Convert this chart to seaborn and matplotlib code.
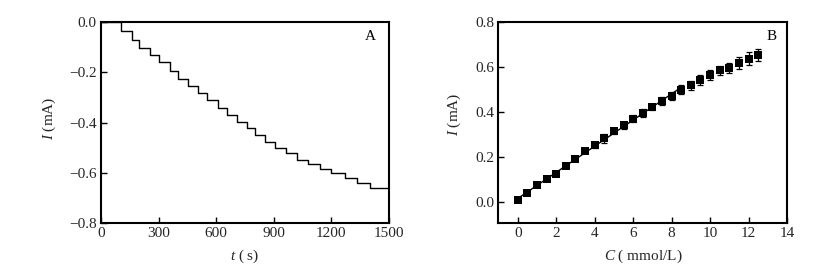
import numpy as np
import pandas as pd
import matplotlib
matplotlib.use("Agg")
import matplotlib.pyplot as plt
import seaborn as sns

# ---- Panel A data: amperometric step response ----
step_times = [0, 102, 160, 200, 255, 304, 359, 403, 455, 507, 554, 611, 658, 710,
              759, 802, 854, 906, 964, 1019, 1080, 1141, 1196, 1271, 1332, 1401, 1500]
step_levels = [0.0, -0.035, -0.072, -0.101, -0.131, -0.159, -0.193, -0.226, -0.253,
               -0.283, -0.309, -0.342, -0.369, -0.398, -0.423, -0.449, -0.476, -0.50,
               -0.523, -0.549, -0.566, -0.585, -0.60, -0.623, -0.642, -0.663, -0.663]

# ---- Panel B data: calibration ----
conc = [0.0, 0.5, 1.0, 1.5, 2.0, 2.5, 3.0, 3.5, 4.0, 4.5, 5.0, 5.5, 6.0, 6.5, 7.0,
        7.5, 8.0, 8.5, 9.0, 9.5, 10.0, 10.5, 11.0, 11.5, 12.0, 12.5]
current = [0.008, 0.04, 0.074, 0.101, 0.126, 0.16, 0.19, 0.225, 0.252, 0.283, 0.314,
           0.341, 0.371, 0.397, 0.422, 0.449, 0.471, 0.50, 0.519, 0.544, 0.566, 0.585,
           0.596, 0.618, 0.637, 0.655]
err = [0.005, 0.004, 0.005, 0.007, 0.005, 0.006, 0.007, 0.009, 0.01, 0.02, 0.012,
       0.016, 0.015, 0.017, 0.015, 0.016, 0.016, 0.02, 0.02, 0.022, 0.022, 0.02,
       0.024, 0.025, 0.028, 0.026]
fit_max_conc = 8.5

A_xticks = [0, 300, 600, 900, 1200, 1500]
A_yticks = [0.0, -0.2, -0.4, -0.6, -0.8]
B_xticks = [0, 2, 4, 6, 8, 10, 12, 14]
B_yticks = [0.0, 0.2, 0.4, 0.6, 0.8]

sns.set_theme(style="ticks")
plt.rcParams['font.family'] = ['Liberation Serif', 'DejaVu Serif']
plt.rcParams['mathtext.fontset'] = 'custom'
plt.rcParams['mathtext.it'] = 'Liberation Serif:italic'
plt.rcParams['mathtext.rm'] = 'Liberation Serif'
plt.rcParams['axes.unicode_minus'] = True

txt_color = "#262626"
fig = plt.figure(figsize=(8.25, 2.8), dpi=100)
axA = fig.add_axes([0.1224, 0.205, 0.349, 0.715])
axB = fig.add_axes([0.6042, 0.205, 0.3498, 0.716])

# Panel A
dfA = pd.DataFrame({"t": step_times, "I": step_levels})
sns.lineplot(data=dfA, x="t", y="I", ax=axA, color="black", linewidth=1.0,
             drawstyle="steps-post", estimator=None)
axA.set_xlim(0, 1500)
axA.set_ylim(-0.8, 0.0)
axA.set_xticks(A_xticks)
axA.set_yticks(A_yticks)
axA.set_yticklabels([f"{v:.1f}".replace("-", "\u2212") if v != 0 else "0.0" for v in A_yticks])
axA.set_xlabel(r"$t$ ( s)", fontsize=11, color=txt_color)
axA.set_ylabel(r"$I$ (mA)", fontsize=11, color=txt_color)
axA.xaxis.set_label_coords(0.5, -0.125)
axA.yaxis.set_label_coords(-0.15, 0.52)
axA.text(0.935, 0.93, "A", transform=axA.transAxes, fontsize=11, ha="center",
         va="center", color="black")

# Panel B
dfB = pd.DataFrame({"C": conc, "I": current, "err": err})
axB.errorbar(dfB["C"], dfB["I"], yerr=dfB["err"], fmt="none", ecolor="black",
             elinewidth=0.9, capsize=2.2, capthick=0.9, zorder=2)
sns.scatterplot(data=dfB, x="C", y="I", ax=axB, marker="s", color="black",
                s=30, edgecolor="black", linewidth=0, zorder=3)
sub = dfB[dfB["C"] <= fit_max_conc]
slope, intercept = np.polyfit(sub["C"], sub["I"], 1)
fit_df = pd.DataFrame({"C": [0.0, fit_max_conc]})
fit_df["I"] = slope * fit_df["C"] + intercept
sns.lineplot(data=fit_df, x="C", y="I", ax=axB, color="black", linewidth=1.0, zorder=2)
axB.set_xlim(-1.0, 14.0)
axB.set_ylim(-0.092, 0.8)
axB.set_xticks(B_xticks)
axB.set_yticks(B_yticks)
axB.set_yticklabels([f"{v:.1f}" for v in B_yticks])
axB.set_xlabel(r"$C$ ( mmol/L)", fontsize=11, color=txt_color)
axB.set_ylabel(r"$I$ (mA)", fontsize=11, color=txt_color)
axB.xaxis.set_label_coords(0.5, -0.125)
axB.yaxis.set_label_coords(-0.122, 0.54)
axB.text(0.945, 0.93, "B", transform=axB.transAxes, fontsize=11, ha="center",
         va="center", color="black")

for ax in (axA, axB):
    for sp in ax.spines.values():
        sp.set_linewidth(1.5)
        sp.set_color("black")
    ax.tick_params(direction="in", length=4, width=1.0, labelsize=11, pad=3,
                   color="black", labelcolor=txt_color, top=False, right=False)

fig.savefig("out.png", dpi=100)
